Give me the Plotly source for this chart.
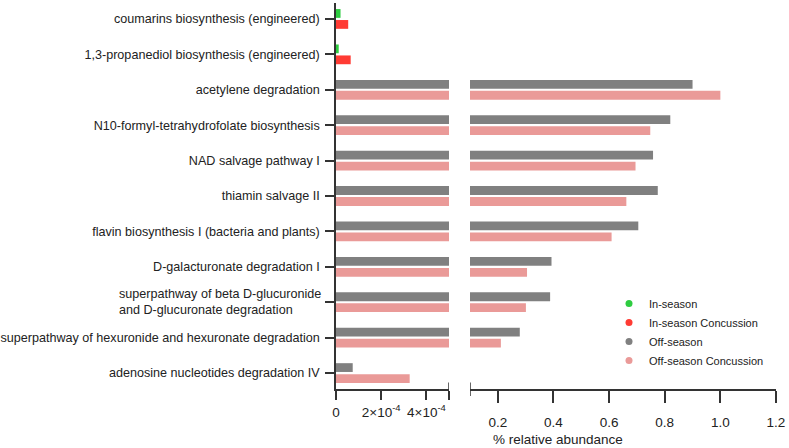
import plotly.graph_objects as go

categories = [
    "coumarins biosynthesis (engineered)",
    "1,3-propanediol biosynthesis (engineered)",
    "acetylene degradation",
    "N10-formyl-tetrahydrofolate biosynthesis",
    "NAD salvage pathway I",
    "thiamin salvage II",
    "flavin biosynthesis I (bacteria and plants)",
    "D-galacturonate degradation I",
    "superpathway of beta D-glucuronide and D-glucuronate degradation",
    "superpathway of hexuronide and hexuronate degradation",
    "adenosine nucleotides degradation IV",
]
in_cats = categories[:2]
off_cats = categories[2:]

in_season = [2.0e-5, 1.2e-5]
in_season_conc = [5.4e-5, 6.5e-5]
off_season = [0.900, 0.820, 0.758, 0.775, 0.705, 0.393, 0.388, 0.279, 7.4e-5]
off_season_conc = [1.000, 0.748, 0.695, 0.662, 0.609, 0.305, 0.301, 0.211, 3.26e-4]

tick_labels = list(categories)
tick_labels[8] = ""  # drawn as a left-aligned two-line annotation
two_line_label = "superpathway of beta D-glucuronide<br>and D-glucuronate degradation"

left_ticks = [0, 2e-4, 4e-4, 5e-4]
left_ticktext = ["0", "2×10<sup>-4</sup>", "4×10<sup>-4</sup>", ""]
right_ticks = [0.2, 0.4, 0.6, 0.8, 1.0, 1.2]
right_ticktext = ["0.2", "0.4", "0.6", "0.8", "1.0", "1.2"]
left_range = [0, 5e-4]
right_range = [0.1, 1.2]

GREEN = "#2ecc40"
RED = "#ff3b33"
GRAY = "#808080"
PINK = "#ea9a98"
AXIS = "#333333"
FONT = "Liberation Sans, Arial, sans-serif"

fig = go.Figure()

series = [
    ("In-season", in_cats, in_season, GREEN, "a"),
    ("Off-season", off_cats, off_season, GRAY, "a"),
    ("In-season Concussion", in_cats, in_season_conc, RED, "b"),
    ("Off-season Concussion", off_cats, off_season_conc, PINK, "b"),
]
for xa in ["x", "x2"]:
    for name, ys, xs, col, grp in series:
        fig.add_trace(go.Bar(
            x=xs, y=ys, orientation="h", name=name, offsetgroup=grp,
            marker=dict(color=col, line=dict(width=0)),
            xaxis=xa, yaxis="y", showlegend=False, hoverinfo="skip",
        ))

for name, col in [("In-season", GREEN), ("In-season Concussion", RED),
                  ("Off-season", GRAY), ("Off-season Concussion", PINK)]:
    fig.add_trace(go.Scatter(
        x=[None], y=[None], mode="markers", name=name,
        marker=dict(color=col, size=7, symbol="circle"),
        xaxis="x2", yaxis="y",
    ))

W, H = 789, 448
L, R, T, B = 336, 13, 3, 59
pw = W - L - R
ph = H - T - B

fig.update_layout(
    width=W, height=H,
    margin=dict(l=L, r=R, t=T, b=B),
    paper_bgcolor="white", plot_bgcolor="white",
    barmode="group", bargap=0.38, bargroupgap=0.2,
    font=dict(family=FONT, size=13, color="#222222"),
    showlegend=True,
    legend=dict(
        x=(609 - L) / pw, xanchor="left",
        y=(389 - 289) / ph, yanchor="top",
        font=dict(size=11, color="#222222"),
        bgcolor="rgba(0,0,0,0)", itemwidth=30,
    ),
    xaxis=dict(
        domain=[0, 113 / pw], range=left_range, anchor="y",
        showgrid=False, zeroline=False, showline=True, linecolor=AXIS, linewidth=1.5,
        ticks="outside", ticklen=9, tickwidth=1.5, tickcolor=AXIS,
        tickmode="array", tickvals=left_ticks, ticktext=left_ticktext,
        tickfont=dict(size=13.5), ticklabelstandoff=1,
    ),
    xaxis2=dict(
        domain=[134 / pw, 1], range=right_range, anchor="y",
        showgrid=False, zeroline=False, showline=True, linecolor=AXIS, linewidth=1.5,
        ticks="outside", ticklen=12, tickwidth=1.5, tickcolor=AXIS,
        tickmode="array", tickvals=right_ticks, ticktext=right_ticktext,
        tickfont=dict(size=13.5), ticklabelstandoff=8,
    ),
    yaxis=dict(
        type="category", categoryorder="array", categoryarray=categories,
        range=[len(categories) - 0.55, -0.45], anchor="x",
        showgrid=False, zeroline=False, showline=True, linecolor=AXIS, linewidth=1.5,
        ticks="outside", ticklen=9, tickwidth=1.5, tickcolor=AXIS,
        tickmode="array", tickvals=categories, ticktext=tick_labels,
        tickfont=dict(size=12.6), automargin=False, ticklabelstandoff=3,
    ),
)

# Axis-break marks at the ends of the two x segments
for xref, xv in [("x", left_range[1]), ("x2", right_range[0])]:
    fig.add_shape(type="line", xref=xref, yref="paper", x0=xv, x1=xv,
                  y0=6.5 / ph, y1=-7 / ph, line=dict(color=AXIS, width=1.5))

fig.add_annotation(
    text=two_line_label, xref="paper", yref="y", x=-13 / pw, y=categories[8],
    xanchor="right", yanchor="middle", align="left", showarrow=False,
    font=dict(size=12.6, color="#222222"),
)
fig.add_annotation(
    text="% relative abundance", xref="paper", yref="paper",
    x=(491 - L) / pw, y=(389 - 439) / ph, xanchor="left", yanchor="middle",
    showarrow=False, font=dict(size=13.5, color="#222222"),
)

fig.write_html(
    "out.html",
    config={"displayModeBar": False},
    post_script="document.body.style.margin='0';document.body.style.overflow='hidden';",
)
